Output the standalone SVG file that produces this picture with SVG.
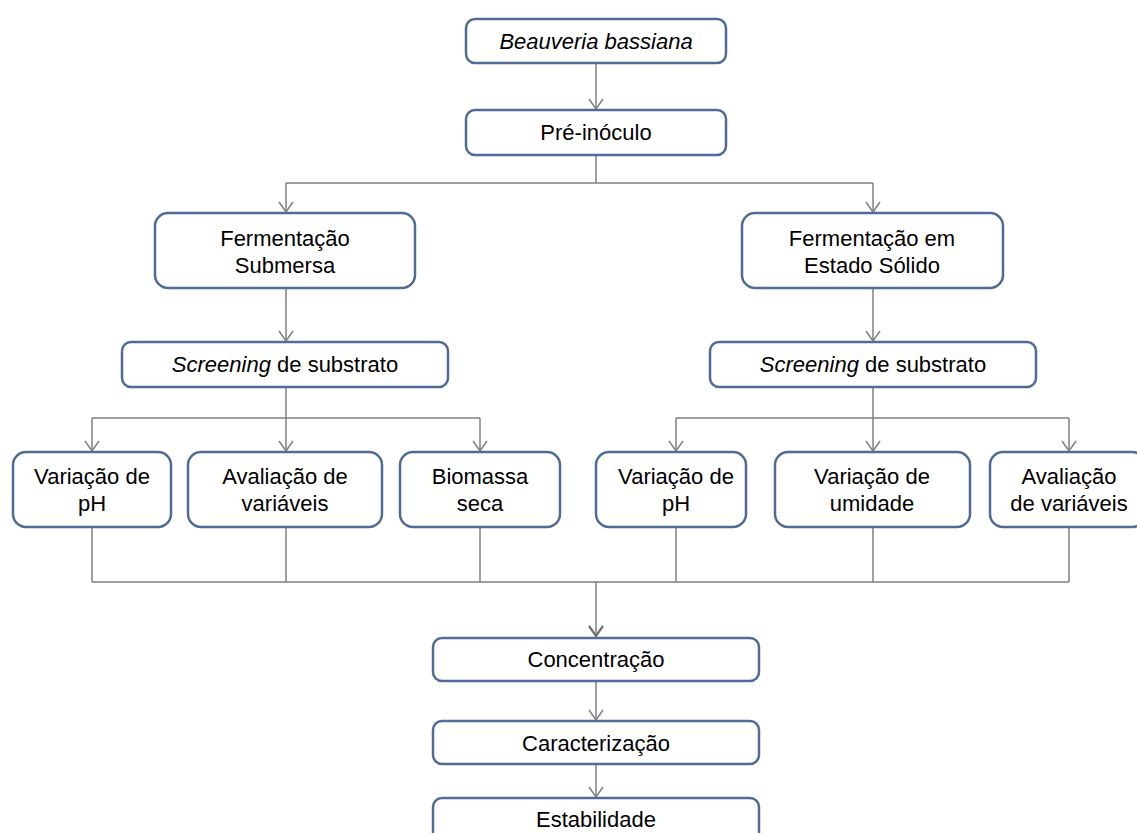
<svg xmlns="http://www.w3.org/2000/svg" width="1137" height="833" viewBox="0 0 1137 833">
<defs>
<style>
.box{fill:#fff;stroke:#4f6b96;stroke-width:2.5}
.t{font-family:"Liberation Sans",Arial,sans-serif;font-size:22px;fill:#000;text-anchor:middle}
.c{fill:none;stroke:#808080;stroke-width:1.5}
</style>
<marker id="ah" markerWidth="16" markerHeight="16" viewBox="0 0 16 16" refX="15" refY="8" orient="auto" markerUnits="userSpaceOnUse">
<path d="M5,1 L15,8 L5,15" fill="none" stroke="#808080" stroke-width="1.5"/>
</marker>
<marker id="ah2" markerWidth="16" markerHeight="16" viewBox="0 0 16 16" refX="15" refY="8" orient="auto" markerUnits="userSpaceOnUse">
<path d="M5,1 L15,8 L5,15" fill="none" stroke="#707070" stroke-width="2.2"/>
</marker>
</defs>
<rect width="1137" height="833" fill="#fff"/>
<g id="connectors">
<path class="c" d="M596,63 V109" marker-end="url(#ah)"/>
<path class="c" d="M596,155 V183 M286,183 H873"/>
<path class="c" d="M286,183 V212" marker-end="url(#ah)"/>
<path class="c" d="M873,183 V212" marker-end="url(#ah)"/>
<path class="c" d="M286,288 V341" marker-end="url(#ah)"/>
<path class="c" d="M873,288 V341" marker-end="url(#ah)"/>
<path class="c" d="M286,387 V418 M92,418 H480"/>
<path class="c" d="M92,418 V451" marker-end="url(#ah)"/>
<path class="c" d="M286,418 V451" marker-end="url(#ah)"/>
<path class="c" d="M480,418 V451" marker-end="url(#ah)"/>
<path class="c" d="M873,387 V418 M676,418 H1069"/>
<path class="c" d="M676,418 V451" marker-end="url(#ah)"/>
<path class="c" d="M873,418 V451" marker-end="url(#ah)"/>
<path class="c" d="M1069,418 V451" marker-end="url(#ah)"/>
<path class="c" d="M92,527 V582 M286,527 V582 M480,527 V582 M676,527 V582 M873,527 V582 M1069,527 V582 M92,582 H1069"/>
<path class="c" d="M596,582 V636" stroke="#707070" stroke-width="2.2" marker-end="url(#ah2)"/>
<path class="c" d="M596,681 V720" marker-end="url(#ah)"/>
<path class="c" d="M596,764 V797" marker-end="url(#ah)"/>
</g>
<g id="n-beauveria"><rect class="box" x="466" y="19" width="260" height="44" rx="9"/><text class="t" x="596" y="49" font-style="italic">Beauveria bassiana</text></g>
<g id="n-preinoculo"><rect class="box" x="466" y="110" width="260" height="45" rx="9"/><text class="t" x="596" y="140">Pré-inóculo</text></g>
<g id="n-fs"><rect class="box" x="155" y="213" width="260" height="75" rx="13"/><text class="t" x="285" y="246">Fermentação</text><text class="t" x="285" y="273">Submersa</text></g>
<g id="n-fes"><rect class="box" x="742" y="213" width="261" height="75" rx="13"/><text class="t" x="872" y="246">Fermentação em</text><text class="t" x="872" y="273">Estado Sólido</text></g>
<g id="n-scr1"><rect class="box" x="122" y="342" width="326" height="45" rx="9"/><text class="t" x="285" y="372"><tspan font-style="italic">Screening</tspan> de substrato</text></g>
<g id="n-scr2"><rect class="box" x="710" y="342" width="326" height="45" rx="9"/><text class="t" x="873" y="372"><tspan font-style="italic">Screening</tspan> de substrato</text></g>
<g id="n-ph1"><rect class="box" x="13" y="452" width="158" height="75" rx="13"/><text class="t" x="92" y="484">Variação de</text><text class="t" x="92" y="511">pH</text></g>
<g id="n-av1"><rect class="box" x="188" y="452" width="194" height="75" rx="13"/><text class="t" x="285" y="484">Avaliação de</text><text class="t" x="285" y="511">variáveis</text></g>
<g id="n-bio"><rect class="box" x="400" y="452" width="160" height="75" rx="13"/><text class="t" x="480" y="484">Biomassa</text><text class="t" x="480" y="511">seca</text></g>
<g id="n-ph2"><rect class="box" x="596" y="452" width="150" height="75" rx="13"/><text class="t" x="676" y="484">Variação de</text><text class="t" x="676" y="511">pH</text></g>
<g id="n-umid"><rect class="box" x="775" y="452" width="195" height="75" rx="13"/><text class="t" x="872" y="484">Variação de</text><text class="t" x="872" y="511">umidade</text></g>
<g id="n-av2"><rect class="box" x="990" y="452" width="155" height="75" rx="13"/><text class="t" x="1069" y="484">Avaliação</text><text class="t" x="1069" y="511">de variáveis</text></g>
<g id="n-conc"><rect class="box" x="433" y="638" width="326" height="43" rx="9"/><text class="t" x="596" y="667">Concentração</text></g>
<g id="n-car"><rect class="box" x="433" y="721" width="326" height="43" rx="9"/><text class="t" x="596" y="751">Caracterização</text></g>
<g id="n-est"><rect class="box" x="433" y="798" width="326" height="50" rx="9"/><text class="t" x="596" y="827">Estabilidade</text></g>
</svg>
